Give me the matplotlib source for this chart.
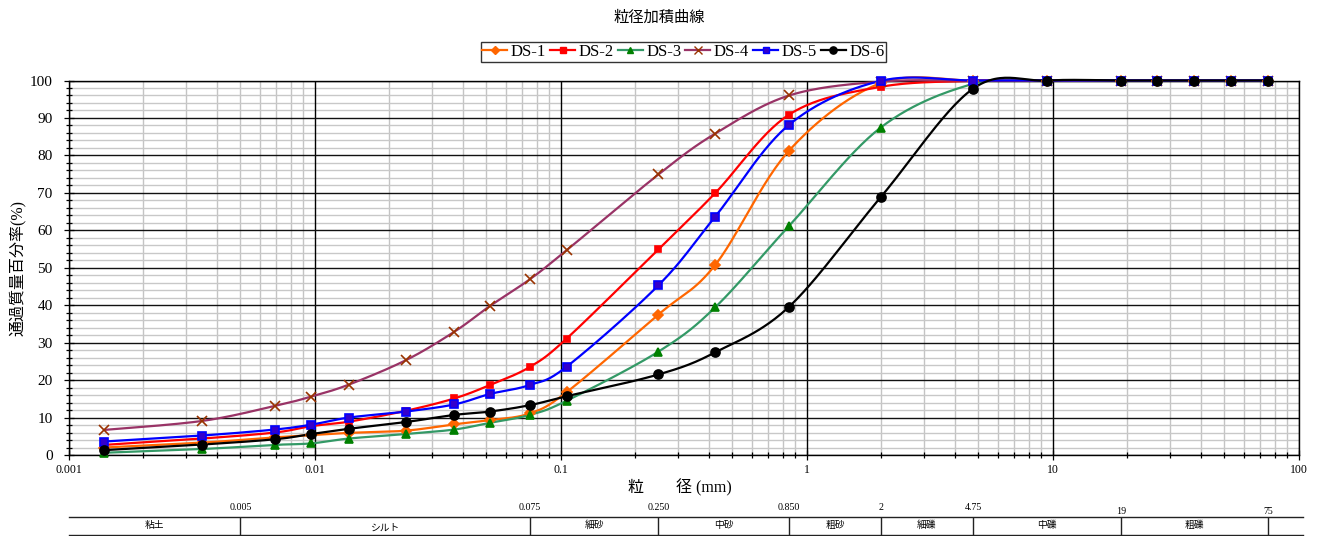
import matplotlib
matplotlib.use('Agg')
import matplotlib.pyplot as plt
import numpy as np
from matplotlib.lines import Line2D
from matplotlib.ticker import MultipleLocator, LogLocator, FuncFormatter, NullFormatter

plt.rcParams['font.family'] = ['Liberation Serif', 'Noto Sans CJK JP']

# 粒径 (mm) - 全試料共通
grain_size = [0.0014, 0.0035, 0.0069, 0.0097, 0.0138, 0.0235, 0.037, 0.0517, 0.075,
              0.106, 0.25, 0.425, 0.85, 2.0, 4.75, 9.5, 19.0, 26.5, 37.5, 53.0, 75.0]

# 通過質量百分率 (%)
ds1 = [2.0, 3.3, 4.7, 5.3, 5.9, 6.5, 8.2, 9.3, 11.1, 16.8, 37.5, 50.7, 81.3, 99.3, 100, 100, 100, 100, 100, 100, 100]
ds2 = [2.7, 4.4, 6.0, 7.7, 8.9, 11.8, 15.1, 18.7, 23.5, 31.1, 54.9, 69.9, 90.9, 98.3, 99.9, 100, 100, 100, 100, 100, 100]
ds3 = [0.6, 1.6, 2.7, 3.1, 4.4, 5.6, 6.8, 8.6, 10.7, 14.5, 27.6, 39.4, 61.2, 87.4, 99.1, 100, 100, 100, 100, 100, 100]
ds4 = [6.7, 9.1, 13.1, 15.6, 18.8, 25.3, 32.9, 39.8, 46.9, 54.7, 74.9, 85.8, 96.0, 99.7, 100, 100, 100, 100, 100, 100, 100]
ds5 = [3.6, 5.2, 6.8, 8.1, 10.0, 11.6, 13.5, 16.3, 18.7, 23.6, 45.3, 63.6, 88.2, 99.9, 100, 100, 100, 100, 100, 100, 100]
ds6 = [1.3, 2.8, 4.2, 5.6, 7.0, 8.8, 10.7, 11.6, 13.3, 15.7, 21.5, 27.4, 39.6, 68.8, 97.8, 100, 100, 100, 100, 100, 100]

series_names = ['DS-1', 'DS-2', 'DS-3', 'DS-4', 'DS-5', 'DS-6']
series_values = [ds1, ds2, ds3, ds4, ds5, ds6]

# 土質区分
class_bounds = [0.005, 0.075, 0.25, 0.85, 2, 4.75, 19, 75]
bound_labels = ['0.005', '0.075', '0.250', '0.850', '2', '4.75', '19', '75']
class_edges = [0.001, 0.005, 0.075, 0.25, 0.85, 2, 4.75, 19, 75]
class_names = ['粘土', 'シルト', '細砂', '中砂', '粗砂', '細礫', '中礫', '粗礫']

styles = [
    dict(color='#FF6600', marker='D', ms=5, mfc='#FF6600', mec='#FF6600'),
    dict(color='#FF0000', marker='s', ms=5, mfc='#FF0000', mec='#FF0000'),
    dict(color='#339966', marker='^', ms=6, mfc='#008000', mec='#008000'),
    dict(color='#993366', marker='x', ms=7, mfc='#993300', mec='#993300'),
    dict(color='#0000FF', marker='s', ms=5.5, mfc='#3300CC', mec='#0000FF'),
    dict(color='#000000', marker='o', ms=6.5, mfc='#000000', mec='#000000'),
]


def smooth(xs, ys, n=30):
    # Excel風の平滑線 (log x 空間で Catmull-Rom)
    P = np.column_stack([np.log10(xs), np.asarray(ys, dtype=float)])
    Q = np.vstack([P[0], P, P[-1]])
    t = np.linspace(0, 1, n)[:, None]
    out = []
    for i in range(len(P) - 1):
        p0, p1, p2, p3 = Q[i], Q[i + 1], Q[i + 2], Q[i + 3]
        c1 = p1 + (p2 - p0) / 6
        c2 = p2 - (p3 - p1) / 6
        seg = (1 - t) ** 3 * p1 + 3 * (1 - t) ** 2 * t * c1 + 3 * (1 - t) * t ** 2 * c2 + t ** 3 * p2
        out.append(seg if i == 0 else seg[1:])
    s = np.vstack(out)
    return 10 ** s[:, 0], s[:, 1]


W, H = 1319, 536
fig = plt.figure(figsize=(W / 100, H / 100), dpi=100)
ax = fig.add_axes([68.5 / W, 1 - 455 / H, (1298.5 - 68.5) / W, (455 - 80.5) / H])

ax.set_xscale('log')
ax.set_xlim(0.001, 100)
ax.set_ylim(0, 100)

ax.yaxis.set_major_locator(MultipleLocator(10))
ax.yaxis.set_minor_locator(MultipleLocator(2))
ax.xaxis.set_major_locator(LogLocator(base=10))
ax.xaxis.set_minor_locator(LogLocator(base=10, subs=np.arange(2, 10)))
ax.xaxis.set_major_formatter(FuncFormatter(lambda v, p: f'{v:g}'))
ax.xaxis.set_minor_formatter(NullFormatter())

# 目盛線: 補助線を下、主線を上に
for v in ax.xaxis.get_minorticklocs():
    ax.axvline(v, color='#c4c4c4', lw=1.0, zorder=0.6)
for v in ax.yaxis.get_minorticklocs():
    if v % 10:
        ax.axhline(v, color='#c8c8c8', lw=1.0, zorder=0.6)
for v in ax.xaxis.get_majorticklocs():
    ax.axvline(v, color='black', lw=1.0, zorder=0.7)
for v in ax.yaxis.get_majorticklocs():
    ax.axhline(v, color='#111111', lw=1.0, zorder=0.7)

ax.tick_params(which='both', direction='inout', color='black', width=0.9)
ax.tick_params(which='major', length=7)
ax.tick_params(which='minor', length=5)
ax.tick_params(axis='y', labelsize=11, pad=8)
ax.tick_params(axis='x', labelsize=8.5, pad=3)
for sp in ax.spines.values():
    sp.set_color('black')
    sp.set_linewidth(1.0)

for vals, st in zip(series_values, styles):
    sx, sy = smooth(grain_size, vals)
    ax.plot(sx, sy, color=st['color'], lw=1.6, clip_on=False, zorder=3)
    ax.plot(grain_size, vals, ls='none', marker=st['marker'], ms=st['ms'],
            mfc=st['mfc'], mec=st['mec'], mew=1.2, clip_on=False, zorder=4)

handles = [Line2D([0], [0], color=st['color'], lw=1.6, marker=st['marker'], ms=st['ms'] * 0.8,
                  mfc=st['mfc'], mec=st['mec']) for st in styles]
leg = fig.legend(handles, series_names, loc='center', bbox_to_anchor=(683.5 / W, 1 - 52 / H),
                 ncol=6, frameon=True, fancybox=False, edgecolor='black', fontsize=12,
                 handlelength=1.5, columnspacing=0.25, handletextpad=0.2,
                 borderpad=0.1, borderaxespad=0)
leg.get_frame().set_linewidth(1.0)

fig.text(659 / W, 1 - 18 / H, '粒径加積曲線', ha='center', va='center', fontsize=11)
fig.text(17 / W, 1 - 268 / H, '通過質量百分率(%)', ha='center', va='center',
         rotation=90, fontsize=11.5)
fig.text(680 / W, 1 - 488 / H, '粒　　径 (mm)', ha='center', va='center', fontsize=11.5)

# 土質区分の表
tax = fig.add_axes([68.5 / W, 1 - 535 / H, (1303 - 68.5) / W, 18 / H])
tax.set_xscale('log')
tax.set_xlim(0.001, 10 ** (-3 + (1303 - 68.5) / 246))
tax.set_ylim(0, 1)
tax.set_xticks([])
tax.set_yticks([])
tax.minorticks_off()
tax.patch.set_alpha(0)
for k in ['left', 'right']:
    tax.spines[k].set_visible(False)
for k in ['top', 'bottom']:
    tax.spines[k].set_color('#222222')
    tax.spines[k].set_linewidth(1.0)
tax.vlines(class_bounds, 0, 1, color='#222222', lw=1.0)
for b, lbl in zip(class_bounds, bound_labels):
    tax.text(b, 1.05 if b >= 19 else 1.3, lbl, ha='center', va='bottom', fontsize=7.2)
for i, name in enumerate(class_names):
    xm = np.sqrt(class_edges[i] * class_edges[i + 1])
    tax.text(xm, 0.35 if name == 'シルト' else 0.55, name, ha='center', va='center', fontsize=7)

fig.savefig('out.png', dpi=100)
